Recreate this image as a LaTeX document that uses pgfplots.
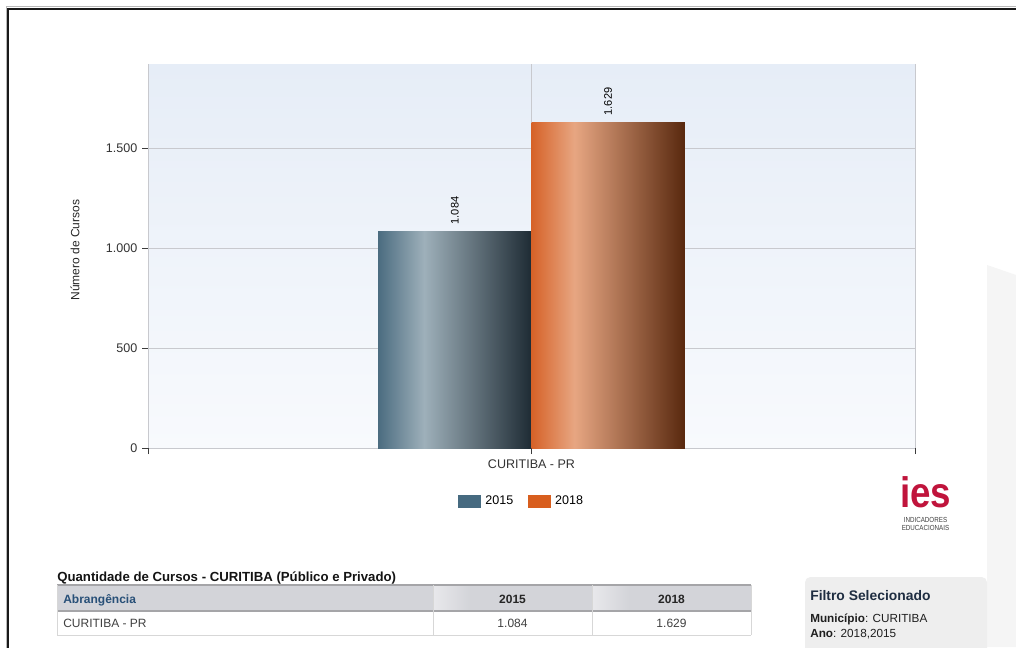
\documentclass[border=0pt]{standalone}
\usepackage{fontspec}
\setmainfont{Liberation Sans}
\usepackage{pgfplots}
\pgfplotsset{compat=1.18}
\definecolor{bgtop}{RGB}{230,237,247}
\definecolor{bgbot}{RGB}{248,250,253}
\definecolor{gridc}{RGB}{200,201,206}
\definecolor{tickc}{RGB}{60,60,60}
\definecolor{c2015}{RGB}{70,106,128}
\definecolor{c2018}{RGB}{216,94,30}
\definecolor{s1a}{RGB}{75,108,128}
\definecolor{s1b}{RGB}{158,176,186}
\definecolor{s1c}{RGB}{30,43,52}
\definecolor{s2a}{RGB}{214,98,40}
\definecolor{s2b}{RGB}{231,166,130}
\definecolor{s2c}{RGB}{88,40,14}
\definecolor{crimson}{RGB}{192,20,60}
\definecolor{filterbg}{RGB}{238,238,238}
\definecolor{filtertitle}{RGB}{30,45,65}
\definecolor{headbg}{RGB}{211,212,217}
\definecolor{headlight}{RGB}{232,232,235}
\definecolor{headblue}{RGB}{40,80,120}
\definecolor{tborder}{RGB}{165,165,168}
\definecolor{tlight}{RGB}{215,215,215}
\definecolor{decor}{RGB}{245,245,245}
\pgfdeclarehorizontalshading{bar2015}{100bp}{color(0bp)=(s1a); color(25bp)=(s1a); color(40bp)=(s1b); color(75bp)=(s1c); color(100bp)=(s1c)}
\pgfdeclarehorizontalshading{bar2018}{100bp}{color(0bp)=(s2a); color(25bp)=(s2a); color(39bp)=(s2b); color(75bp)=(s2c); color(100bp)=(s2c)}
\begin{document}
\begin{tikzpicture}
\useasboundingbox (0,0) rectangle (762pt,-485.25pt);
\fill[white] (0,0) rectangle (762pt,-485.25pt);
\begin{scope}[x=0.75pt,y=-0.75pt]
  \fill[decor] (987,265) -- (1016,275) -- (1016,647) -- (987,647) -- cycle;
  \draw[gray!55, line width=0.75pt] (6,650) -- (6,6.5) -- (1020,6.5);
  \draw[black!90, line width=1.5pt] (8,650) -- (8,8.5) -- (1020,8.5);
\end{scope}
\begin{axis}[
  at={(111pt,-336pt)}, anchor=south west,
  scale only axis, width=575.25pt, height=288pt,
  xmin=-1, xmax=1, ymin=0, ymax=1920,
  xtick={-1,0,1}, xticklabels={{},{CURITIBA - PR},{}},
  ytick={0,500,1000,1500},
  /pgf/number format/1000 sep={.},
  /pgf/number format/assume math mode=true,
  axis line style={draw=none},
  grid=major,
  major grid style={draw=gridc, line width=0.75pt},
  tick align=outside, tick pos=left,
  major tick length=4.5pt,
  tick style={draw=tickc, line width=0.75pt},
  tick label style={font=\fontsize{9.4}{11}\selectfont, text=black!80},
  xticklabel style={yshift=-1pt},
  axis background/.style={top color=bgtop, bottom color=bgbot},
  ylabel={Número de Cursos},
  ylabel style={font=\fontsize{9}{11}\selectfont, at={(axis description cs:-0.095,0.515)}, anchor=center, text=black!85},
  legend columns=2,
  legend style={at={(axis description cs:0.4876,-0.138)}, anchor=center, draw=none, fill=none,
    font=\fontsize{9.4}{11}\selectfont,
    /tikz/every odd column/.append style={column sep=1.5pt},
    /tikz/every even column/.append style={column sep=9pt}},
]
\addplot[ybar, bar width=0.4, bar shift=0pt, draw=none, shade, shading=bar2015, forget plot] coordinates {(-0.2,1084)};
\addplot[ybar, bar width=0.4, bar shift=0pt, draw=none, shade, shading=bar2018, forget plot] coordinates {(0.2,1629)};
\addplot[draw=none, mark=none, forget plot, nodes near coords,
  every node near coord/.append style={rotate=90, anchor=west, inner sep=5pt, font=\fontsize{8.25}{10}\selectfont, text=black}]
  coordinates {(-0.2,1084) (0.2,1629)};
\addlegendimage{legend image code/.code={\fill[c2015] (0pt,-4.5pt) rectangle (16.5pt,4.5pt);}}
\addlegendentry{2015}
\addlegendimage{legend image code/.code={\fill[c2018] (0pt,-4.5pt) rectangle (16.5pt,4.5pt);}}
\addlegendentry{2018}
\end{axis}
\begin{scope}[x=0.75pt,y=-0.75pt]
  % logo
  \node[anchor=base, text=crimson, inner sep=0pt, xscale=0.86, transform shape] at (925.5,507) {\fontsize{32}{32}\selectfont\bfseries ies};
  \node[anchor=base, text=black!75, inner sep=0pt, xscale=0.85, transform shape] at (925.5,522) {\fontsize{5.5}{6}\selectfont INDICADORES};
  \node[anchor=base, text=black!75, inner sep=0pt, xscale=0.85, transform shape] at (925.5,530.5) {\fontsize{5.5}{6}\selectfont EDUCACIONAIS};
  % table
  \node[anchor=base west, inner sep=0pt, text=black!92] at (57,581) {\fontsize{9.9}{11}\selectfont\bfseries Quantidade de Cursos - CURITIBA (Público e Privado)};
  \fill[headbg] (57,585) rectangle (751,611);
  \shade[left color=headlight, right color=headbg] (433,585) rectangle (470,611);
  \shade[left color=headlight, right color=headbg] (592,585) rectangle (629,611);
  \fill[white] (57,611) rectangle (751,635);
  \draw[tborder, line width=1pt] (57,585) -- (751,585);
  \draw[tborder, line width=1pt] (57,611) -- (751,611);
  \draw[tlight, line width=0.75pt] (57,635) -- (751,635);
  \draw[tlight, line width=0.75pt] (57,585) -- (57,635);
  \draw[tlight, line width=0.75pt] (433,585) -- (433,635);
  \draw[tlight, line width=0.75pt] (592,585) -- (592,635);
  \draw[tlight, line width=0.75pt] (751,585) -- (751,635);
  \node[anchor=base west, inner sep=0pt, text=headblue] at (63,603) {\fontsize{9}{11}\selectfont\bfseries Abrangência};
  \node[anchor=base, inner sep=0pt, text=black!85] at (512.5,603) {\fontsize{9}{11}\selectfont\bfseries 2015};
  \node[anchor=base, inner sep=0pt, text=black!85] at (671.5,603) {\fontsize{9}{11}\selectfont\bfseries 2018};
  \node[anchor=base west, inner sep=0pt, text=black!75] at (63,627) {\fontsize{9}{11}\selectfont CURITIBA - PR};
  \node[anchor=base, inner sep=0pt, text=black!75] at (512.5,627) {\fontsize{9}{11}\selectfont 1.084};
  \node[anchor=base, inner sep=0pt, text=black!75] at (671.5,627) {\fontsize{9}{11}\selectfont 1.629};
  % filter box
  \fill[filterbg, rounded corners=4pt] (805,577) rectangle (987,660);
  \node[anchor=base west, inner sep=0pt, text=filtertitle] at (810,600) {\fontsize{10.4}{12}\selectfont\bfseries Filtro Selecionado};
  \node[anchor=base west, inner sep=0pt, text=black!88] at (810,622) {\fontsize{8.8}{10}\selectfont\textbf{Município}: CURITIBA};
  \node[anchor=base west, inner sep=0pt, text=black!88] at (810,637) {\fontsize{8.8}{10}\selectfont\textbf{Ano}: 2018,2015};
\end{scope}
\end{tikzpicture}
\end{document}
